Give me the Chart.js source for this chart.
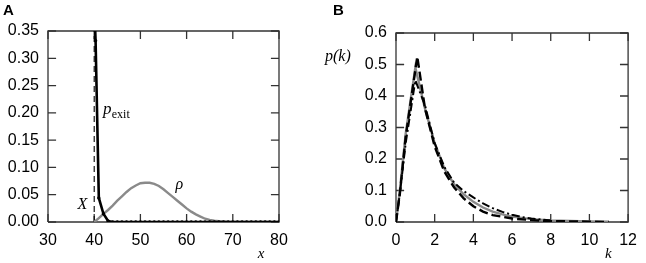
<!DOCTYPE html>
<html>
<head>
<meta charset="utf-8">
<script src="https://cdn.jsdelivr.net/npm/chart.js@4/dist/chart.umd.min.js"></script>
<style>
html,body{margin:0;padding:0;background:#fff;}
#wrap{position:relative;width:646px;height:263px;overflow:hidden;}
canvas{position:absolute;top:0;}
#ca{left:0;}
#cb{left:323px;}
</style>
</head>
<body>
<div id="wrap">
<canvas id="ca" width="323" height="263"></canvas>
<canvas id="cb" width="323" height="263"></canvas>
</div>
<script>
// ---------- Panel A data ----------
const aTicksX = [30, 40, 50, 60, 70, 80];
const aTicksY = [0, 0.05, 0.10, 0.15, 0.20, 0.25, 0.30, 0.35];
const pexitX = [40, 40.3, 41, 42, 43, 44, 45, 46, 47, 48, 49, 50, 51, 52, 53, 54, 55, 56, 57, 58, 59, 60,
                61, 62, 63, 64, 65, 66, 67, 68, 69, 70, 71, 72, 73, 74, 75, 76, 77, 78, 79, 80];
const pexitY = [0.40, 0.332, 0.044, 0.015, 0.002, 0, 0, 0, 0, 0, 0, 0, 0, 0, 0, 0, 0, 0, 0, 0, 0, 0,
                0, 0, 0, 0, 0, 0, 0, 0, 0, 0, 0, 0, 0, 0, 0, 0, 0, 0, 0, 0];
const rhoX = [40, 41, 42, 43, 44, 45, 46, 47, 48, 49, 50, 51, 52, 53, 54, 55, 56, 57, 58, 59, 60,
              61, 62, 63, 64, 65, 66, 67, 68, 69, 70, 72, 74, 76, 78, 80];
const rhoY = [0, 0.007, 0.015, 0.022, 0.030, 0.039, 0.047, 0.055, 0.062, 0.067, 0.071, 0.072, 0.072, 0.070, 0.066, 0.060,
              0.053, 0.046, 0.039, 0.032, 0.025, 0.019, 0.014, 0.010, 0.006, 0.004, 0.0025, 0.0015, 0.0008, 0.0003, 0,
              0, 0, 0, 0, 0];
const barrierX = [40, 40];
const barrierY = [0, 0.35];

// ---------- Panel B data ----------
const bTicksX = [0, 2, 4, 6, 8, 10, 12];
const bTicksY = [0, 0.1, 0.2, 0.3, 0.4, 0.5, 0.6];
const simK = [0, 0.2, 0.5, 1.0, 1.5, 2, 2.5, 3, 3.5, 4, 4.5, 5, 5.5, 6, 7, 8, 9, 10, 11];
const simP = [0, 0.10, 0.28, 0.49, 0.36, 0.25, 0.17, 0.12, 0.088, 0.064, 0.046, 0.033, 0.024, 0.017, 0.009, 0.005, 0.003, 0.002, 0.001];
const dashK = [0, 0.2, 0.5, 1.1, 1.5, 2, 2.5, 3, 3.5, 4, 4.5, 5, 6, 7, 8, 9, 10, 11];
const dashP = [0, 0.09, 0.27, 0.525, 0.36, 0.24, 0.16, 0.11, 0.075, 0.05, 0.033, 0.022, 0.011, 0.006, 0.003, 0.002, 0.001, 0];
const dotK = [0, 0.2, 0.5, 1.0, 1.5, 2, 2.5, 3, 3.5, 4, 4.5, 5, 5.5, 6, 6.5, 7, 7.5, 8];
const dotP = [0, 0.09, 0.25, 0.45, 0.37, 0.25, 0.175, 0.125, 0.098, 0.078, 0.059, 0.044, 0.032, 0.023, 0.016, 0.011, 0.008, 0.005];

function pts(xs, ys) { return xs.map((x, i) => ({ x: x, y: ys[i] })); }

const TICKFONT = { family: 'Liberation Sans', size: 16 };
const FRAME_COLOR = '#333333';

// Frame box and inward tick marks, built from the axis ranges and tick arrays
function frameDatasets(tx, ty) {
  const xmin = tx[0], xmax = tx[tx.length - 1], ymin = ty[0], ymax = ty[ty.length - 1];
  const dx = (xmax - xmin) * 0.035, dy = (ymax - ymin) * 0.042;
  const box = [{ x: xmin, y: ymin }, { x: xmax, y: ymin }, { x: xmax, y: ymax }, { x: xmin, y: ymax }, { x: xmin, y: ymin }];
  const marks = [];
  tx.forEach(v => {
    marks.push({ x: v, y: ymin }, { x: v, y: ymin + dy }, { x: v, y: null });
    marks.push({ x: v, y: ymax }, { x: v, y: ymax - dy }, { x: v, y: null });
  });
  ty.forEach(v => {
    marks.push({ x: xmin, y: v }, { x: xmin + dx, y: v }, { x: xmin + dx, y: null });
    marks.push({ x: xmax, y: v }, { x: xmax - dx, y: v }, { x: xmax - dx, y: null });
  });
  return [
    { data: box, borderColor: FRAME_COLOR, borderWidth: 1.3, pointRadius: 0, clip: 4, order: 10 },
    { data: marks, borderColor: FRAME_COLOR, borderWidth: 1.3, pointRadius: 0, clip: 4, spanGaps: false, order: 10 }
  ];
}

function textPlugin(items) {
  return {
    id: 'texts',
    afterDraw(chart) {
      const ctx = chart.ctx;
      ctx.save();
      ctx.fillStyle = '#000';
      ctx.textBaseline = 'alphabetic';
      items(chart).forEach(it => {
        ctx.font = it.font;
        ctx.textAlign = it.align || 'left';
        ctx.fillText(it.text, it.x, it.y);
      });
      ctx.restore();
    }
  };
}

function makeScales(tx, ty, ydec, yWidth) {
  return {
    x: {
      type: 'linear', min: tx[0], max: tx[tx.length - 1],
      afterBuildTicks: s => { s.ticks = tx.map(v => ({ value: v })); },
      ticks: { color: '#000', font: TICKFONT, padding: 9, maxRotation: 0, callback: v => String(v) },
      grid: { display: false, drawTicks: false },
      border: { display: false },
      afterFit: s => { s.height = 41; }
    },
    y: {
      type: 'linear', min: ty[0], max: ty[ty.length - 1],
      afterBuildTicks: s => { s.ticks = ty.map(v => ({ value: v })); },
      ticks: { color: '#000', font: TICKFONT, padding: 9, callback: v => Number(v).toFixed(ydec) },
      grid: { display: false, drawTicks: false },
      border: { display: false },
      afterFit: s => { s.width = yWidth; }
    }
  };
}

const common = {
  responsive: false,
  animation: false,
  devicePixelRatio: 1,
  plugins: { legend: { display: false }, tooltip: { enabled: false } },
  elements: { line: { tension: 0 } }
};

// ---------- Chart A ----------
new Chart(document.getElementById('ca'), {
  type: 'line',
  data: {
    datasets: [
      { data: pts(pexitX, pexitY), borderColor: '#000', borderWidth: 2.6, pointRadius: 1.7,
        pointBackgroundColor: '#000', pointBorderWidth: 0, order: 1 },
      { data: pts(rhoX, rhoY), borderColor: '#8a8a8a', borderWidth: 2.4, pointRadius: 0, order: 2 },
      { data: pts(barrierX, barrierY), borderColor: '#000', borderWidth: 1.1, borderDash: [6, 4], pointRadius: 0, order: 3 }
    ].concat(frameDatasets(aTicksX, aTicksY))
  },
  options: Object.assign({}, common, {
    layout: { padding: { top: 31, right: 44, left: 0, bottom: 0 } },
    scales: makeScales(aTicksX, aTicksY, 2, 48)
  }),
  plugins: [textPlugin(ch => {
    const x = ch.scales.x, y = ch.scales.y;
    return [
      { text: 'A', x: 3, y: 15, font: 'bold 15px "Liberation Sans"' },
      { text: 'p', x: x.getPixelForValue(41.9), y: y.getPixelForValue(0.198), font: 'italic 17px "Liberation Serif"' },
      { text: 'exit', x: x.getPixelForValue(43.8), y: y.getPixelForValue(0.191), font: '12px "Liberation Serif"' },
      { text: 'ρ', x: x.getPixelForValue(57.6), y: y.getPixelForValue(0.061), font: 'italic 16px "Liberation Serif"' },
      { text: 'X', x: x.getPixelForValue(36.4), y: y.getPixelForValue(0.023), font: 'italic 16px "Liberation Serif"' },
      { text: 'x', x: x.getPixelForValue(75.4), y: 258, font: 'italic 15px "Liberation Serif"' }
    ];
  })]
});

// ---------- Chart B ----------
new Chart(document.getElementById('cb'), {
  type: 'line',
  data: {
    datasets: [
      { data: pts(dashK, dashP), borderColor: '#000', borderWidth: 2.4, borderDash: [9, 4], pointRadius: 0, order: 1 },
      { data: pts(dotK, dotP), borderColor: '#000', borderWidth: 2.0, borderDash: [8, 3, 2, 3], pointRadius: 0, order: 2 },
      { data: pts(simK, simP), borderColor: '#8a8a8a', borderWidth: 2.4, pointRadius: 0, order: 3 }
    ].concat(frameDatasets(bTicksX, bTicksY))
  },
  options: Object.assign({}, common, {
    layout: { padding: { top: 33, right: 10, left: 0, bottom: 0 } },
    scales: makeScales(bTicksX, bTicksY, 1, 73)
  }),
  plugins: [textPlugin(ch => {
    const x = ch.scales.x;
    return [
      { text: 'B', x: 10, y: 15, font: 'bold 15px "Liberation Sans"' },
      { text: 'p(k)', x: 2, y: 61, font: 'italic 16px "Liberation Serif"' },
      { text: 'k', x: x.getPixelForValue(10.8), y: 258, font: 'italic 15px "Liberation Serif"' }
    ];
  })]
});
</script>
</body>
</html>
